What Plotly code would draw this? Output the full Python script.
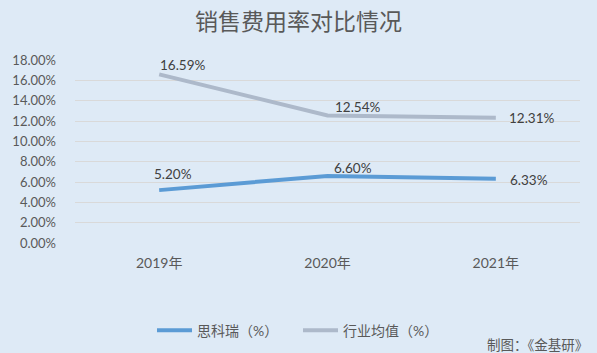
import plotly.graph_objects as go

categories = ["2019年", "2020年", "2021年"]
company_name = "思科瑞（%）"
company_values = [5.20, 6.60, 6.33]
industry_name = "行业均值（%）"
industry_values = [16.59, 12.54, 12.31]
y_ticks = [0, 2, 4, 6, 8, 10, 12, 14, 16, 18]
title_text = "销售费用率对比情况"
source_text = "制图：《金基研》"

# label offsets in px (style, not data)
company_offsets = [(14, 16), (25, 8), (33, -1)]
industry_offsets = [(24, 9), (30, 9), (36, 0)]

FONT = "Lato, Noto Sans CJK SC, sans-serif"
CJK = "Noto Sans CJK SC, sans-serif"
TXT = "#595959"

fig = go.Figure()
fig.add_trace(go.Scatter(x=categories, y=company_values, name=company_name, mode="lines",
                         line=dict(color="#5b9bd5", width=4)))
fig.add_trace(go.Scatter(x=categories, y=industry_values, name=industry_name, mode="lines",
                         line=dict(color="#adb9ca", width=4)))

for vals, offs in ((company_values, company_offsets), (industry_values, industry_offsets)):
    for c, v, (dx, dy) in zip(categories, vals, offs):
        fig.add_annotation(x=c, y=v, text=f"{v:.2f}%", showarrow=False,
                           xshift=dx, yshift=dy, font=dict(size=13.5, color="#404040", family=FONT))

fig.add_annotation(text=source_text, xref="paper", yref="paper", x=1.02, y=-0.552,
                   xanchor="right", yanchor="middle", showarrow=False,
                   font=dict(size=13.5, color=TXT, family=CJK))

fig.update_layout(
    width=597, height=353,
    margin=dict(l=68, r=17, t=60, b=110),
    paper_bgcolor="#deeaf6", plot_bgcolor="#deeaf6",
    title=dict(text=title_text, x=0.5, xref="container", xanchor="center",
               y=0.938, yref="container", yanchor="middle",
               font=dict(size=23, color=TXT, family=CJK)),
    font=dict(family=FONT, color=TXT),
    showlegend=True,
    legend=dict(orientation="h", xref="container", yref="container", x=152 / 597, y=0.063,
                xanchor="left", yanchor="middle", font=dict(size=14, color=TXT, family=FONT),
                entrywidth=96, entrywidthmode="pixels", itemwidth=35,
                tracegroupgap=0, bgcolor="rgba(0,0,0,0)"),
    xaxis=dict(type="category", range=[-0.5, 2.5], showgrid=False, zeroline=False,
               showline=False, ticks="", ticklabelstandoff=10,
               tickfont=dict(size=14, color=TXT, family=FONT)),
    yaxis=dict(range=[0, 18], tickvals=y_ticks, ticktext=[f"{t:.2f}%" for t in y_ticks],
               showgrid=True, gridcolor="#d9d9d9", gridwidth=1, zeroline=False,
               showline=False, ticks="", ticklabelstandoff=18,
               tickfont=dict(size=13, color=TXT, family=FONT)),
)

fig.write_html("out.html")
